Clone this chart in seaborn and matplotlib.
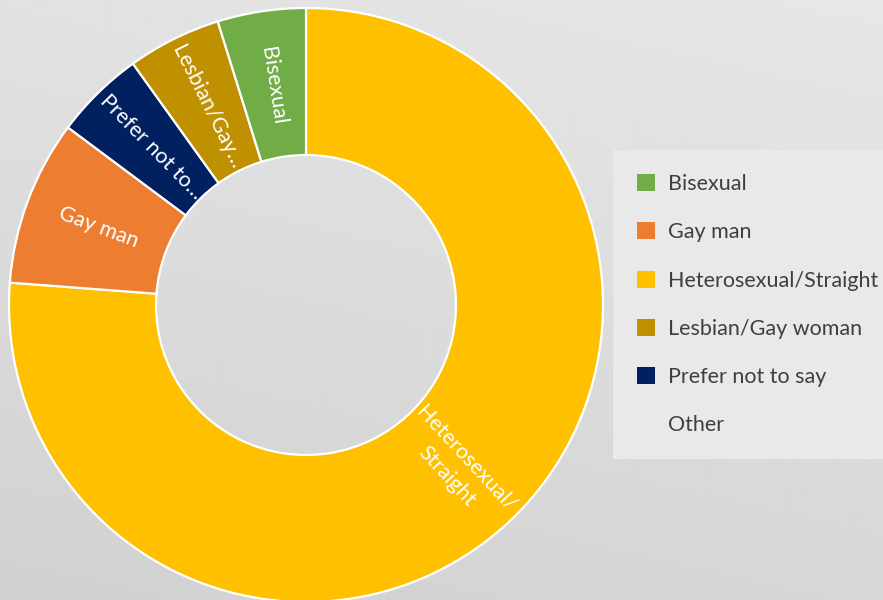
import numpy as np
import seaborn as sns
import matplotlib
matplotlib.use("Agg")
import matplotlib.pyplot as plt
from matplotlib.patches import Patch

# categories in legend order, with share of respondents (%)
categories = ["Bisexual", "Gay man", "Heterosexual/Straight",
              "Lesbian/Gay woman", "Prefer not to say", "Other"]
shares = [4.8, 9.0, 76.2, 5.1, 4.9, 0.0]
slice_labels = ["Bisexual", "Gay man", "Heterosexual/\nStraight",
                "Lesbian/Gay…", "Prefer not to…", ""]
colors = ["#70AD47", "#ED7D31", "#FFC000", "#BF9000", "#002060", "none"]

# order the slices go round clockwise from 12 o'clock
ring_order = [2, 1, 4, 3, 0]

sns.set_style("white")
plt.rcParams["font.family"] = ["Lato", "DejaVu Sans"]

fig = plt.figure(figsize=(8.83, 6.0), dpi=100)

# grey gradient background
bg = fig.add_axes([0, 0, 1, 1], zorder=-5)
yy, xx = np.mgrid[0:1:200j, 0:1:300j]
shade = 0.905 - 0.085 * (0.75 * yy + 0.25 * (1 - xx))
bg.imshow(shade, cmap="gray", vmin=0, vmax=1, aspect="auto",
          extent=[0, 1, 0, 1], origin="upper")
bg.set_axis_off()

ax = fig.add_axes([9 / 883, -2 / 600, 594 / 883, 594 / 600])
ax.set_facecolor("none")

vals = [shares[i] for i in ring_order]
cols = [colors[i] for i in ring_order]
wedges, _ = ax.pie(vals, colors=cols, startangle=90, counterclock=False,
                   radius=1.0,
                   wedgeprops=dict(width=0.495, edgecolor="white", linewidth=1.6))
ax.set_xlim(-1, 1)
ax.set_ylim(-1, 1)
ax.set_aspect("equal")

# rotated labels inside each slice
for w, i in zip(wedges, ring_order):
    mid = np.deg2rad((w.theta1 + w.theta2) / 2)
    r = 0.745
    x, y = r * np.cos(mid), r * np.sin(mid)
    rot = np.rad2deg(mid)
    rot = (rot + 180) % 360 - 180
    if np.cos(mid) < 0:
        rot = rot - 180 if rot > 0 else rot + 180
    ax.text(x, y, slice_labels[i], color="white", fontsize=15.5,
            rotation=rot, rotation_mode="anchor", ha="center", va="center",
            linespacing=1.45)

handles = [Patch(facecolor=c, edgecolor="none") for c in colors]
leg = fig.legend(handles, categories, loc="upper left",
                 bbox_to_anchor=(613 / 883, 1 - 150 / 600),
                 fontsize=15.5, frameon=True, fancybox=False,
                 facecolor="#ebebeb", edgecolor="none", framealpha=0.9,
                 handlelength=0.84, handleheight=0.84, handletextpad=0.6,
                 labelspacing=1.31, borderpad=1.12, borderaxespad=0)
for t in leg.get_texts():
    t.set_color("#3f3f3f")

fig.savefig("out.png", dpi=100)
